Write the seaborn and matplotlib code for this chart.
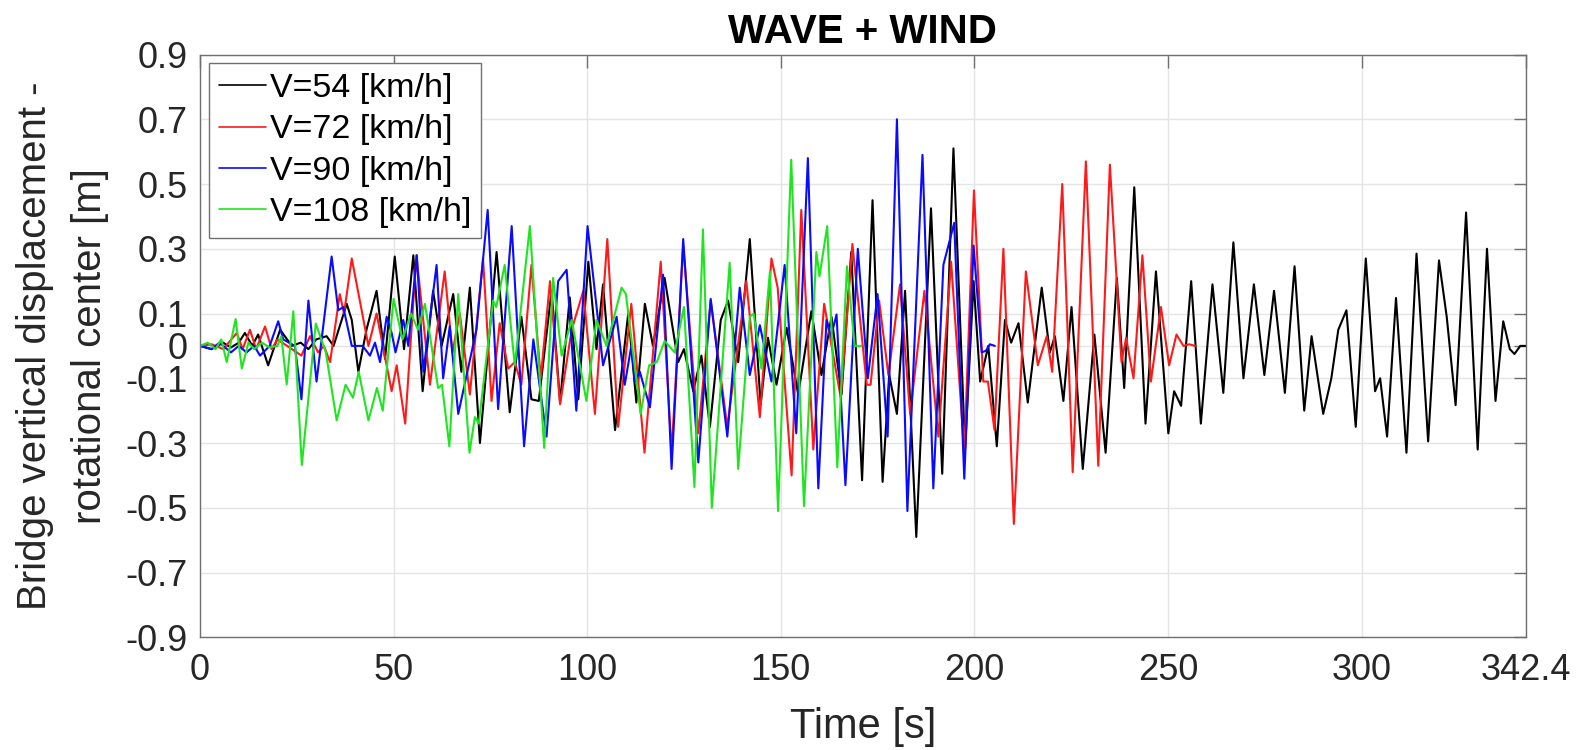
import matplotlib
matplotlib.use("Agg")
import matplotlib.pyplot as plt
import seaborn as sns
import pandas as pd

# ---------------- data ----------------
series_labels = ["V=54 [km/h]", "V=72 [km/h]", "V=90 [km/h]", "V=108 [km/h]"]
series_colors = ["#000000", "#ff1a1a", "#0a0aff", "#1ee61e"]

t_54 = [0, 3, 6, 8, 10, 11.6, 13.5, 15, 17.6, 20.7, 23.7, 26, 28, 30, 32.7, 34.5, 37.9, 39.2,
        40.9, 43, 45.6, 47.8, 50.3, 52.7, 55.1, 57.5, 60.2, 62.4, 65.4, 67.5, 69.7, 72.3, 76.6,
        80, 83, 85.6, 87.5, 90.8, 93, 95.5, 97.7, 100.3, 102.4, 104.1, 107.2, 110.6, 112.7,
        114.9, 117, 120, 123.5, 125, 127.4, 129.5, 131.7, 134.5, 136.4, 139, 142, 144.8, 146.7,
        148.9, 151.5, 154.5, 157.9, 160.5, 163.1, 165.7, 168.2, 171, 173.7, 176.3, 178, 180,
        182.1, 185, 188.8, 191.7, 194.6, 197.6, 199.8, 201.5, 203.6, 205.8, 207.9, 209.5, 211.4,
        213.8, 217.4, 219.5, 220.8, 223, 225.1, 228, 231, 233.9, 236.8, 238.7, 241.3, 244.2,
        246.9, 250.1, 251.6, 253.4, 256, 258.5, 261.5, 264.3, 266.9, 269.5, 272.2, 274.9, 277.4,
        280.2, 282.7, 285.2, 287.1, 290.1, 292.2, 294, 296.1, 298.5, 301.1, 303.5, 304.8, 306.6,
        308.9, 311.6, 314.2, 317.2, 320, 322, 324.3, 327, 330, 332.4, 334.6, 336.6, 338.3, 339.5,
        341, 342.4]
v_54 = [0, -0.01, 0.01, -0.005, 0.01, 0.04, 0.0, 0.035, -0.06, 0.05, 0.0, 0.01, -0.01, 0.02, 0.03,
        0.0, 0.13, 0.08, -0.08, 0.05, 0.17, -0.04, 0.276, -0.01, 0.28, -0.14, 0.17, 0.0, 0.16,
        -0.08, 0.18, -0.30, 0.29, -0.205, 0.09, -0.165, -0.17, 0.17, -0.175, 0.15, -0.165, 0.26,
        -0.01, 0.19, -0.26, 0.10, -0.175, 0.13, 0.0, 0.21, -0.05, -0.01, -0.14, -0.03, -0.25, 0.08,
        0.14, -0.05, 0.33, -0.18, 0.025, -0.12, 0.056, -0.15, 0.107, -0.09, 0.09, -0.15, 0.29,
        -0.415, 0.45, -0.42, -0.09, -0.21, 0.17, -0.59, 0.425, -0.395, 0.61, -0.32, 0.20, -0.11,
        0.0, -0.31, 0.08, 0.01, 0.07, -0.175, 0.18, -0.02, 0.03, -0.17, 0.12, -0.38, 0.035, -0.33,
        0.21, -0.13, 0.49, -0.24, 0.23, -0.27, -0.14, -0.185, 0.20, -0.24, 0.19, -0.145, 0.32,
        -0.10, 0.19, -0.09, 0.17, -0.145, 0.246, -0.20, 0.03, -0.21, -0.10, 0.05, 0.11, -0.25,
        0.27, -0.14, -0.10, -0.28, 0.148, -0.33, 0.285, -0.295, 0.264, 0.09, -0.183, 0.412, -0.32,
        0.30, -0.17, 0.076, -0.01, -0.025, 0.0, 0.0]

t_72 = [0, 3, 6, 9.5, 11, 12.9, 14.5, 16.8, 18.5, 20, 22.5, 26.2, 28.4, 30.5, 32, 33.6, 36.1,
        37.2, 39.2, 43.5, 45.6, 49.5, 50.8, 53, 55.9, 59.4, 63.2, 65.2, 67.1, 69.7, 73.1, 75.3,
        77.4, 79.6, 81.3, 83, 85.6, 88, 90.4, 93, 96, 99, 102, 105.2, 108, 111.4, 114.8, 119,
        121.8, 124.8, 128.7, 131.9, 136.2, 141.1, 144.6, 147.6, 149.2, 152.8, 155.3, 158.4,
        161.2, 165.5, 168.5, 172.2, 173.2, 175.4, 177.8, 180.8, 183.4, 187.1, 190.7, 194, 197.4,
        199.9, 202.3, 203.5, 205.2, 207.5, 210.2, 213.3, 216.4, 218.7, 220.1, 222.7, 225.4,
        228.8, 232, 235, 238, 239.2, 241.1, 243.4, 245.6, 248.2, 250.3, 252.2, 254, 255.5, 257]
v_72 = [0, 0.005, -0.01, 0.04, -0.01, 0.05, -0.01, 0.06, -0.01, 0.02, 0.0, -0.03, 0.03, -0.02,
        0.0, -0.05, 0.16, 0.10, 0.27, 0.0, 0.10, -0.14, -0.06, -0.24, 0.28, -0.12, 0.23, -0.02,
        0.10, -0.15, 0.27, -0.17, 0.07, -0.07, -0.05, -0.12, 0.25, -0.10, 0.20, -0.18, 0.05, 0.17,
        -0.21, 0.33, -0.25, 0.13, -0.33, 0.26, -0.33, 0.31, -0.27, 0.14, -0.25, 0.20, -0.22, 0.27,
        0.18, -0.40, 0.42, -0.32, 0.13, -0.16, 0.315, -0.12, -0.12, 0.14, -0.09, 0.19, -0.21,
        0.17, -0.28, 0.26, -0.33, 0.48, -0.11, -0.11, -0.26, 0.30, -0.55, 0.23, -0.06, 0.03,
        -0.08, 0.50, -0.39, 0.57, -0.37, 0.56, -0.05, 0.025, -0.10, 0.28, -0.11, 0.12, -0.06,
        0.035, 0.0, 0.005, 0.0]

t_90 = [0, 3, 5, 8, 10, 12, 14, 15.5, 18, 20.2, 21.5, 24.5, 26.2, 28, 30.1, 34, 35.7, 37, 39.2,
        42, 43.9, 45.2, 46.5, 48.2, 49.5, 50.5, 52.5, 53.8, 56, 57.7, 61.1, 62.8, 64.5, 66.7,
        71.4, 74.3, 77, 80.5, 83.7, 86.1, 89.5, 92.5, 94.7, 97.2, 100.1, 104.1, 107.6, 109.7,
        111.4, 112.3, 113.6, 116.2, 119.6, 121.8, 124.8, 128.7, 131.9, 136.2, 139.4, 142,
        144.6, 147.6, 151, 154, 157, 159.7, 161.8, 163, 164.4, 166.7, 169.9, 172.5, 175, 177.6,
        180, 182.7, 186.6, 189.4, 192, 194.8, 197.4, 199.8, 201.9, 203, 204, 205.3]
v_90 = [0, -0.01, 0.01, -0.02, 0.0, -0.02, 0.0, -0.03, 0.0, 0.076, 0.02, 0.0, -0.165, 0.14, -0.11,
        0.276, 0.11, 0.12, 0.0, 0.0, -0.03, 0.01, -0.05, 0.09, 0.04, -0.02, 0.08, 0.0, 0.28, -0.08,
        0.25, -0.10, 0.06, -0.21, 0.05, 0.42, -0.195, 0.37, -0.31, 0.02, -0.28, 0.20, 0.235,
        -0.20, 0.37, -0.06, 0.09, -0.12, 0.0, -0.11, -0.08, -0.19, 0.22, -0.38, 0.33, -0.36,
        0.145, -0.28, 0.18, -0.09, 0.064, -0.11, 0.25, -0.27, 0.58, -0.44, 0.08, 0.03, 0.097,
        -0.43, 0.30, -0.10, 0.16, -0.28, 0.70, -0.51, 0.59, -0.44, 0.25, 0.38, -0.41, 0.31,
        -0.02, -0.015, 0.005, 0.0]

t_108 = [0, 2, 4, 5.5, 6.9, 9.2, 10.8, 12.5, 14, 16, 18, 20, 21, 22.4, 24.1, 26.3, 29.9, 32.5,
         35.3, 37.6, 39.5, 41, 43.5, 45.7, 47.2, 50, 52.3, 54.5, 56.3, 58.1, 61.5, 62.5, 64.4,
         66.7, 69.6, 71, 72, 75.7, 76.5, 78.7, 81.3, 85.2, 88.9, 91.2, 93.4, 96, 99.8, 102.4, 105,
         108.9, 110, 113.8, 116, 118, 120, 122.6, 125, 127.7, 129.9, 132.2, 136.8, 139, 142, 143,
         145, 147.2, 149.3, 152.7, 156, 159.2, 160, 162, 164.6, 167.1, 169.1, 170.8]
v_108 = [0, 0.01, -0.01, 0.02, -0.05, 0.083, -0.07, 0.01, -0.01, 0.01, -0.005, 0.0, 0.03, -0.119,
         0.107, -0.368, 0.069, -0.02, -0.23, -0.12, -0.16, -0.08, -0.23, -0.13, -0.20, 0.145,
         0.02, 0.10, 0.05, 0.13, -0.13, -0.12, -0.31, 0.16, -0.33, -0.22, -0.24, 0.14, 0.12, 0.25,
         -0.06, 0.37, -0.315, 0.21, -0.03, 0.08, -0.17, 0.08, 0.0, 0.18, 0.16, -0.21, -0.06, -0.05,
         0.015, -0.02, 0.12, -0.436, 0.36, -0.50, 0.257, -0.38, 0.09, 0.10, -0.07, 0.23, -0.51,
         0.575, -0.495, 0.29, 0.215, 0.37, -0.375, 0.246, 0.0, 0.0]

x_ticks = [0, 50, 100, 150, 200, 250, 300, 342.4]
x_tick_labels = ["0", "50", "100", "150", "200", "250", "300", "342.4"]
y_ticks = [-0.9, -0.7, -0.5, -0.3, -0.1, 0, 0.1, 0.3, 0.5, 0.7, 0.9]
y_tick_labels = ["-0.9", "-0.7", "-0.5", "-0.3", "-0.1", "0", "0.1", "0.3", "0.5", "0.7", "0.9"]

title_text = "WAVE + WIND"
x_label = "Time [s]"
y_label = "Bridge vertical displacement -\nrotational center [m]"

# ---------------- plotting ----------------
sns.set_style("white")
plt.rcParams["font.family"] = ["Liberation Sans", "DejaVu Sans"]

fig = plt.figure(figsize=(15.87, 7.5), dpi=100)
ax = fig.add_axes([200 / 1587, (750 - 637.3) / 750, (1525.7 - 200) / 1587, (637.3 - 54.5) / 750])

all_t = [t_54, t_72, t_90, t_108]
all_v = [v_54, v_72, v_90, v_108]
for tt, vv, lab, col in zip(all_t, all_v, series_labels, series_colors):
    df = pd.DataFrame({"t": tt, "v": vv})
    sns.lineplot(data=df, x="t", y="v", ax=ax, color=col, label=lab, linewidth=1.5,
                 sort=False, estimator=None, solid_joinstyle="round")

ax.set_xlim(0, 342.4)
ax.set_ylim(-0.9, 0.9)
ax.set_xticks(x_ticks)
ax.set_xticklabels(x_tick_labels)
ax.set_yticks(y_ticks)
ax.set_yticklabels(y_tick_labels)
ax.grid(True, color="#e4e4e4", linewidth=1.0)
ax.set_axisbelow(True)

ax.tick_params(axis="both", which="both", direction="in", length=9, width=1.0,
               color="#707070", labelcolor="#262626", labelsize=26,
               top=True, right=True)
ax.tick_params(axis="x", pad=11)
ax.tick_params(axis="y", pad=9)
for s in ax.spines.values():
    s.set_visible(True)
    s.set_color("#707070")
    s.set_linewidth(1.0)

ax.set_title(title_text, fontsize=29, fontweight="bold", color="#000000", pad=8)
ax.set_xlabel(x_label, fontsize=30, color="#262626", labelpad=14)
ax.set_ylabel(y_label, fontsize=29, color="#262626", labelpad=12, linespacing=1.55)

leg = ax.legend(loc="upper left", fontsize=24.5, frameon=True, fancybox=False,
                edgecolor="#707070", framealpha=1.0, borderpad=0.3, labelspacing=0.3,
                handlelength=1.4, handletextpad=0.1, borderaxespad=0.25)
leg.get_frame().set_linewidth(1.0)
for line in leg.get_lines():
    line.set_linewidth(1.2)
for txt in leg.get_texts():
    txt.set_color("#000000")

fig.savefig("out.png", dpi=100)
